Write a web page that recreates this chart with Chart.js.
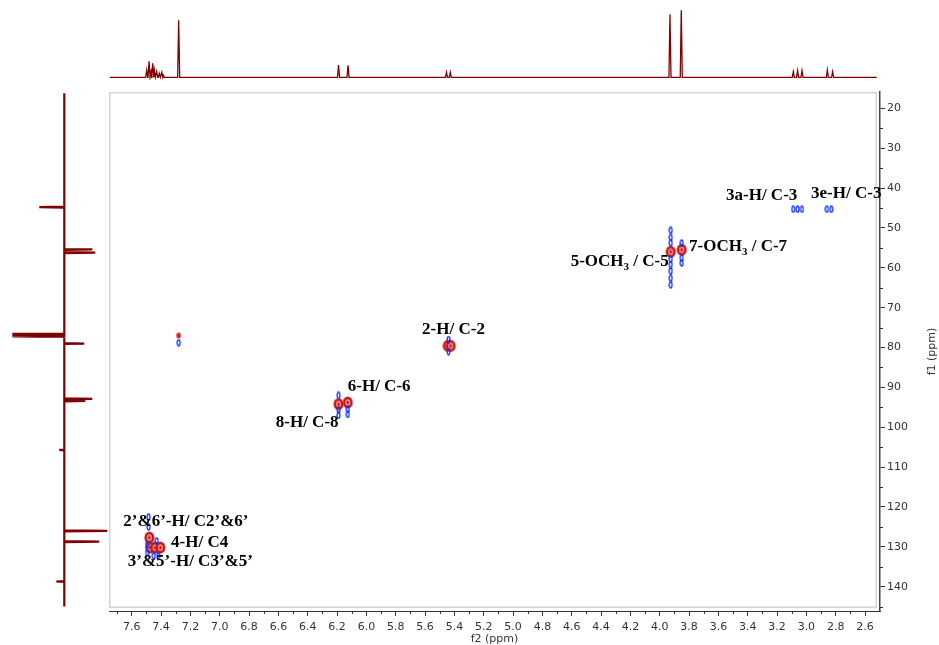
<!DOCTYPE html>
<html>
<head>
<meta charset="utf-8">
<title>HSQC</title>
<style>
  body { margin: 0; background: #fff; }
  #wrap { position: relative; width: 939px; height: 645px; }
  canvas { position: absolute; }
</style>
</head>
<body>
<div id="wrap">
  <canvas id="main" width="939" height="645" style="left:0;top:0"></canvas>
  <canvas id="topSpec" width="771" height="80" style="left:109px;top:0"></canvas>
  <canvas id="sideSpec" width="110" height="519" style="left:0;top:92px"></canvas>
</div>
<script src="https://cdn.jsdelivr.net/npm/chart.js"></script>
<script>
// axes
const f2Min = 2.498, f2Max = 7.755;
const f1Min = 15.9, f1Max = 146.1;
const f2Ticks = [7.6, 7.4, 7.2, 7.0, 6.8, 6.6, 6.4, 6.2, 6.0, 5.8, 5.6, 5.4, 5.2, 5.0, 4.8, 4.6, 4.4, 4.2, 4.0, 3.8, 3.6, 3.4, 3.2, 3.0, 2.8, 2.6];
const f2Minor = [7.7, 7.5, 7.3, 7.1, 6.9, 6.7, 6.5, 6.3, 6.1, 5.9, 5.7, 5.5, 5.3, 5.1, 4.9, 4.7, 4.5, 4.3, 4.1, 3.9, 3.7, 3.5, 3.3, 3.1, 2.9, 2.7];
const f1Ticks = [20, 30, 40, 50, 60, 70, 80, 90, 100, 110, 120, 130, 140];
const f1Minor = [25, 35, 45, 55, 65, 75, 85, 95, 105, 115, 125, 135, 145];

// 1H projection (top)
const topPeakPpm = [7.498, 7.482, 7.468, 7.457, 7.446, 7.430, 7.412, 7.395, 7.384, 7.28, 6.19, 6.125, 5.454, 5.428, 3.93, 3.853, 3.089, 3.06, 3.03, 2.857, 2.821];
const topPeakHeight = [7, 16, 6, 14, 7, 6, 4, 5, 2, 57, 12.3, 12, 5, 5, 63, 67, 5.7, 6.7, 6.7, 7.3, 5.7];

// 13C projection (left)
const sidePeakPpm = [44.8, 55.4, 56.2, 76.6, 76.9, 77.2, 79.0, 92.9, 93.4, 105.7, 126.0, 128.7, 138.7];
const sidePeakInt = [-25, 28, 31, -52, -52, -52, 20, 28, 21, -5, 43, 35, -8];

// cross peaks
const redH = [3.925, 3.85, 5.445, 5.425, 6.127, 6.19, 7.48, 7.475, 7.44, 7.405];
const redC = [56.0, 55.5, 79.6, 79.6, 93.8, 94.2, 127.7, 130.2, 130.2, 130.2];
const smallRedH = [7.28];
const smallRedC = [77.0];
const blueH = [3.09, 3.06, 3.03, 2.86, 2.83,
  3.925, 3.925, 3.925, 3.925, 3.925, 3.925, 3.925, 3.925,
  3.85, 3.85, 3.85,
  5.44, 5.44,
  6.127, 6.127,
  6.19, 6.19, 6.19,
  7.28,
  7.485, 7.485, 7.495, 7.495, 7.43, 7.45, 7.42];
const blueC = [45.3, 45.3, 45.3, 45.3, 45.3,
  50.6, 52.4, 53.8, 57.8, 59.2, 60.8, 62.6, 64.3,
  53.8, 57.5, 58.8,
  78.0, 81.0,
  95.5, 96.8,
  92.0, 95.6, 97.0,
  78.8,
  122.5, 125.0, 129.5, 131.5, 128.5, 132.3, 132.3];

// annotations
const labelText = ['3a-H/ C-3', '3e-H/ C-3', '7-OCH_3 / C-7', '5-OCH_3 / C-5', '2-H/ C-2', '6-H/ C-6', '8-H/ C-8', '2’&6’-H/ C2’&6’', '4-H/ C4', '3’&5’-H/ C3’&5’'];
const labelH = [3.548, 2.968, 3.80, 4.607, 5.62, 6.127, 6.618, 7.657, 7.332, 7.627];
const labelC = [42.0, 41.3, 54.7, 58.5, 75.6, 89.8, 98.9, 123.7, 128.9, 133.7];

const specColor = '#800000';
const axisFont = { family: 'DejaVu Sans', size: 11 };

function spectrumLine(ppm, height, w, start, end, horizontal) {
  const pts = [];
  const push = (p, v) => pts.push(horizontal ? { x: p, y: v } : { x: v, y: p });
  push(start, 0);
  ppm.forEach((p, i) => {
    const dir = start > end ? -1 : 1;
    push(p - dir * w, 0);
    push(p, height[i]);
    push(p + dir * w, 0);
  });
  push(end, 0);
  return pts;
}

function ellipseImage(w, h, draw) {
  const c = document.createElement('canvas');
  c.width = w; c.height = h;
  draw(c.getContext('2d'));
  return c;
}

const redImg = ellipseImage(11, 13, (g) => {
  g.fillStyle = '#c81818';
  g.beginPath(); g.ellipse(5.5, 6.5, 5, 6, 0, 0, Math.PI * 2); g.fill();
  g.fillStyle = '#ee9a9a';
  g.beginPath(); g.ellipse(5.5, 6.5, 2.5, 3.3, 0, 0, Math.PI * 2); g.fill();
  g.fillStyle = '#bb1515';
  g.beginPath(); g.ellipse(5.5, 6.5, 1.2, 1.8, 0, 0, Math.PI * 2); g.fill();
});
const smallRedImg = ellipseImage(5, 7, (g) => {
  g.fillStyle = '#e02020';
  g.beginPath(); g.ellipse(2.5, 3.5, 2.2, 3, 0, 0, Math.PI * 2); g.fill();
});
const blueImg = ellipseImage(5, 8, (g) => {
  g.strokeStyle = '#1030ff';
  g.lineWidth = 1.3;
  g.beginPath(); g.ellipse(2.5, 4, 1.4, 3, 0, 0, Math.PI * 2); g.stroke();
});

const pts = (hs, cs) => hs.map((h, i) => ({ x: h, y: cs[i] }));

const boxPlugin = {
  id: 'box',
  beforeDatasetsDraw(chart) {
    const a = chart.chartArea, g = chart.ctx;
    g.save();
    g.strokeStyle = '#d4d4d4';
    g.lineWidth = 1.5;
    g.strokeRect(a.left + 0.75, a.top + 0.75, a.right - a.left - 4.5, a.bottom - a.top - 4.5);
    g.restore();
  }
};

const extrasPlugin = {
  id: 'extras',
  afterDraw(chart) {
    const g = chart.ctx, xs = chart.scales.x, ys = chart.scales.y, a = chart.chartArea;
    g.save();
    g.strokeStyle = '#333';
    g.lineWidth = 1;
    f2Minor.forEach((v) => {
      const px = Math.round(xs.getPixelForValue(v)) + 0.5;
      g.beginPath(); g.moveTo(px, a.bottom); g.lineTo(px, a.bottom + 3); g.stroke();
    });
    f1Minor.forEach((v) => {
      if (v > f1Max) return;
      const py = Math.round(ys.getPixelForValue(v)) + 0.5;
      g.beginPath(); g.moveTo(a.right, py); g.lineTo(a.right + 3, py); g.stroke();
    });
    // f1 title, reading bottom to top
    g.fillStyle = '#333';
    g.font = '11px "DejaVu Sans"';
    g.textAlign = 'center';
    g.textBaseline = 'middle';
    g.translate(932, (a.top + a.bottom) / 2);
    g.rotate(-Math.PI / 2);
    g.fillText('f1 (ppm)', 0, 0);
    g.restore();

    // annotations
    g.save();
    g.fillStyle = '#000';
    g.textBaseline = 'middle';
    g.textAlign = 'left';
    labelText.forEach((t, i) => {
      let x = xs.getPixelForValue(labelH[i]);
      const y = ys.getPixelForValue(labelC[i]);
      const parts = t.split('_');
      parts.forEach((part, j) => {
        let s = part;
        if (j > 0) {
          g.font = 'bold 11px "Liberation Serif"';
          g.fillText(s[0], x, y + 5);
          x += g.measureText(s[0]).width;
          s = s.slice(1);
        }
        g.font = 'bold 17px "Liberation Serif"';
        g.fillText(s, x, y);
        x += g.measureText(s).width;
      });
    });
    g.restore();
  }
};

new Chart(document.getElementById('main'), {
  type: 'scatter',
  data: {
    datasets: [
      { data: pts(blueH, blueC), pointStyle: blueImg, pointRadius: 4 },
      { data: pts(redH, redC), pointStyle: redImg, pointRadius: 6 },
      { data: pts(smallRedH, smallRedC), pointStyle: smallRedImg, pointRadius: 3 },
    ],
  },
  options: {
    responsive: false,
    animation: false,
    layout: { padding: { left: 109, top: 92, right: 0, bottom: 0 }, autoPadding: false },
    plugins: { legend: { display: false }, tooltip: { enabled: false } },
    scales: {
      x: {
        type: 'linear',
        position: 'bottom',
        reverse: true,
        min: f2Min,
        max: f2Max,
        afterBuildTicks: (s) => { s.ticks = f2Ticks.map((v) => ({ value: v })); },
        afterFit: (s) => { s.height = 34; },
        ticks: { callback: (v) => v.toFixed(1), font: axisFont, color: '#333', padding: 5, maxRotation: 0, autoSkip: false },
        grid: { drawOnChartArea: false, drawTicks: true, tickLength: 5, color: '#333' },
        border: { display: true, color: '#333', width: 1 },
        title: { display: true, text: 'f2 (ppm)', font: axisFont, color: '#333', padding: { top: 0, bottom: -1 } },
      },
      y: {
        type: 'linear',
        position: 'right',
        reverse: true,
        min: f1Min,
        max: f1Max,
        afterBuildTicks: (s) => { s.ticks = f1Ticks.map((v) => ({ value: v })); },
        afterFit: (s) => { s.width = 59; },
        ticks: { callback: (v) => String(v), font: axisFont, color: '#333', padding: 2, autoSkip: false },
        grid: { drawOnChartArea: false, drawTicks: true, tickLength: 5, color: '#333' },
        border: { display: true, color: '#444', width: 1.5 },
      },
    },
  },
  plugins: [boxPlugin, extrasPlugin],
});

new Chart(document.getElementById('topSpec'), {
  type: 'scatter',
  data: {
    datasets: [{
      data: spectrumLine(topPeakPpm, topPeakHeight, 0.007, 7.75, 2.52, true),
      showLine: true, borderColor: specColor, borderWidth: 1.3, pointRadius: 0, tension: 0,
    }],
  },
  options: {
    responsive: false,
    animation: false,
    layout: { padding: 0, autoPadding: false },
    plugins: { legend: { display: false }, tooltip: { enabled: false } },
    scales: {
      x: { type: 'linear', display: false, reverse: true, min: f2Min, max: f2Max },
      y: { type: 'linear', display: false, min: -2.7, max: 77.3 },
    },
  },
});

new Chart(document.getElementById('sideSpec'), {
  type: 'scatter',
  data: {
    datasets: [{
      data: spectrumLine(sidePeakPpm, sidePeakInt, 0.12, 16.2, 145.0, false),
      showLine: true, borderColor: specColor, borderWidth: 2.2, pointRadius: 0, tension: 0,
    }],
  },
  options: {
    responsive: false,
    animation: false,
    layout: { padding: 0, autoPadding: false },
    plugins: { legend: { display: false }, tooltip: { enabled: false } },
    scales: {
      x: { type: 'linear', display: false, min: -64.3, max: 45.7 },
      y: { type: 'linear', display: false, reverse: true, min: f1Min, max: f1Max },
    },
  },
});
</script>
</body>
</html>
